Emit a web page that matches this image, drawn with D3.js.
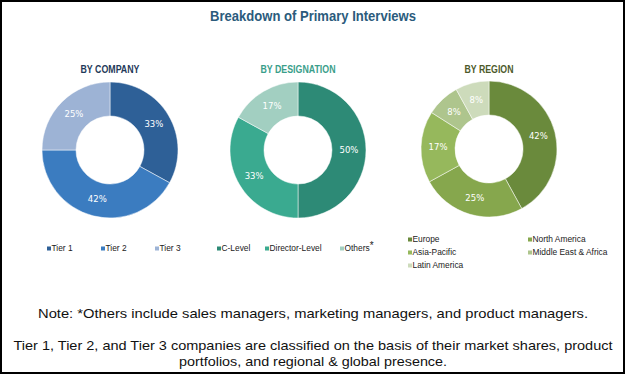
<!DOCTYPE html>
<html>
<head>
<meta charset="utf-8">
<script src="https://cdn.jsdelivr.net/npm/d3@7"></script>
<style>
body { margin: 0; background: #fff; }
svg { display: block; }
</style>
</head>
<body>
<div id="chart"></div>
<script>
var companyLabels = ["Tier 1", "Tier 2", "Tier 3"];
var companyValues = [33, 42, 25];
var companyColors = ["#2e6097", "#3b7cc0", "#9db3d5"];

var designationLabels = ["C-Level", "Director-Level", "Others"];
var designationValues = [50, 33, 17];
var designationColors = ["#2d8a76", "#3aaa90", "#a2cfc1"];

var regionLabels = ["Europe", "North America", "Asia-Pacific", "Middle East & Africa", "Latin America"];
var regionValues = [42, 25, 17, 8, 8];
var regionColors = ["#6a8a3c", "#86a74d", "#96b85c", "#aec58d", "#cddbbb"];

var noteLines = [
    "Note: *Others include sales managers, marketing managers, and product managers.",
    "Tier 1, Tier 2, and Tier 3 companies are classified on the basis of their market shares, product",
    "portfolios, and regional & global presence."
];

var W = 625, H = 374;
var FONT = "'Liberation Sans', Arial, sans-serif";

var svg = d3.select("#chart")
    .append("svg")
    .attr("width", W)
    .attr("height", H);

svg.append("rect")
    .attr("x", 1).attr("y", 1)
    .attr("width", W - 2).attr("height", H - 2)
    .attr("fill", "#fff")
    .attr("stroke", "#000")
    .attr("stroke-width", 2);

svg.append("text")
    .attr("x", 313).attr("y", 21)
    .attr("text-anchor", "middle")
    .attr("font-family", FONT)
    .attr("font-weight", "bold")
    .attr("font-size", 15)
    .attr("textLength", 206)
    .attr("lengthAdjust", "spacingAndGlyphs")
    .attr("fill", "#2b5b7c")
    .text("Breakdown of Primary Interviews");

var outerR = 68, innerR = 34;
var pie = d3.pie().sort(null);
var arc = d3.arc().innerRadius(innerR).outerRadius(outerR);

function donut(cx, cy, title, titleWidth, titleColor, values, colors){
    var g = svg.append("g").attr("transform", "translate(" + cx + "," + cy + ")");
    svg.append("text")
        .attr("x", cx).attr("y", 72.5)
        .attr("text-anchor", "middle")
        .attr("font-family", FONT)
        .attr("font-weight", "bold")
        .attr("font-size", 10.5)
        .attr("textLength", titleWidth)
        .attr("lengthAdjust", "spacingAndGlyphs")
        .attr("fill", titleColor)
        .text(title);

    var arcs = pie(values);
    g.selectAll("path")
        .data(arcs)
        .enter()
        .append("path")
        .attr("d", arc)
        .attr("fill", function(d, i){ return colors[i]; })
        .attr("stroke", "#fff")
        .attr("stroke-width", 0.5);

    g.selectAll("text")
        .data(arcs)
        .enter()
        .append("text")
        .attr("transform", function(d){ return "translate(" + arc.centroid(d) + ")"; })
        .attr("dy", "0.35em")
        .attr("text-anchor", "middle")
        .attr("font-family", "'DejaVu Sans', sans-serif")
        .attr("font-size", 8.5)
        .attr("fill", "#fff")
        .text(function(d){ return d.data + "%"; });
}

donut(110, 150, "BY COMPANY", 59, "#1f3a5a", companyValues, companyColors);
donut(298, 150, "BY DESIGNATION", 75, "#3a9e8a", designationValues, designationColors);
donut(489, 149, "BY REGION", 49, "#4d5a2a", regionValues, regionColors);

//legends
function legendItem(x, y, label, color, star){
    svg.append("rect")
        .attr("x", x).attr("y", y - 2)
        .attr("width", 4).attr("height", 4)
        .attr("fill", color);
    var t = svg.append("text")
        .attr("x", x + 4.5).attr("y", y)
        .attr("dy", "0.35em")
        .attr("font-family", FONT)
        .attr("font-size", 8.4)
        .attr("fill", "#222")
        .text(label);
    if(star){
        t.append("tspan")
            .attr("dy", -2)
            .attr("font-size", 10)
            .text("*");
    }
}

var companyLegendX = [47, 101, 155];
companyLabels.forEach(function(l, i){ legendItem(companyLegendX[i], 248.5, l, companyColors[i]); });

var designationLegendX = [217, 265, 340];
designationLabels.forEach(function(l, i){ legendItem(designationLegendX[i], 248.5, l, designationColors[i], i == 2); });

var regionLegendPos = [[408, 239.5], [528, 239.5], [408, 252.5], [528, 252.5], [408, 265.5]];
regionLabels.forEach(function(l, i){ legendItem(regionLegendPos[i][0], regionLegendPos[i][1], l, regionColors[i]); });

//notes
var noteY = [313.5, 345, 361.5];
var noteW = [550, 599, 268];
svg.selectAll("text.note")
    .data(noteLines)
    .enter()
    .append("text")
    .attr("class", "note")
    .attr("x", 313)
    .attr("y", function(d, i){ return noteY[i]; })
    .attr("dy", "0.35em")
    .attr("text-anchor", "middle")
    .attr("font-family", FONT)
    .attr("font-size", 13)
    .attr("textLength", function(d, i){ return noteW[i]; })
    .attr("lengthAdjust", "spacingAndGlyphs")
    .attr("fill", "#111")
    .text(function(d){ return d; });
</script>
</body>
</html>
